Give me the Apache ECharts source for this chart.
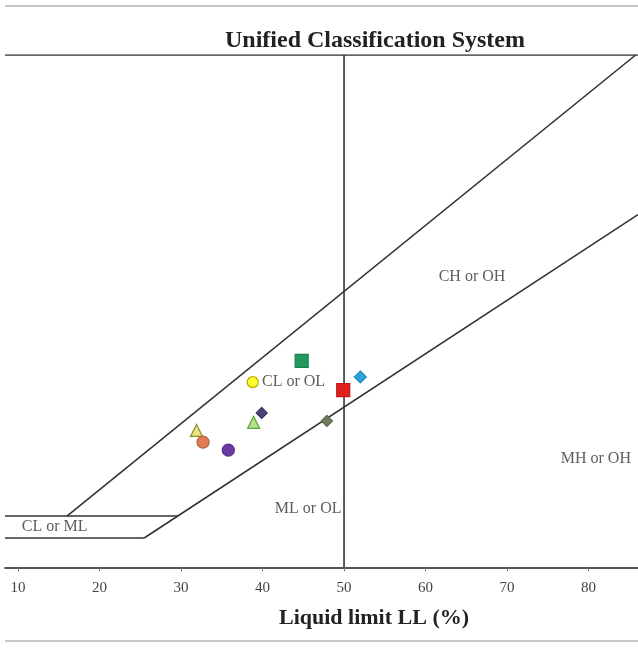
<!DOCTYPE html>
<html>
<head>
<meta charset="utf-8">
<style>
html,body{margin:0;padding:0;background:#fff;}
#chart{width:638px;height:648px;}
</style>
<script src="https://cdn.jsdelivr.net/npm/echarts@6/dist/echarts.min.js"></script>
</head>
<body>
<div id="chart"></div>
<script>
// ---- data ----
const tickLabels = [10, 20, 30, 40, 50, 60, 70, 80];
const sampleLL = [44.8, 38.8, 49.9, 52.0, 39.9, 38.9, 47.9, 31.9, 32.7, 35.8];
const samplePI = [28.2, 25.3, 24.2, 26.0, 21.1, 19.8, 20.0, 18.7, 17.1, 16.0];
const uLine = [[16, 7], [85.78, 70]];
const aLine = [[25.48, 4], [86.07, 48.2]];
const clmlUpper = [[8.4, 7], [29.59, 7]];
const clmlLower = [[8.4, 4], [25.48, 4]];
const llFifty = [[50, 0], [50, 70]];
const topLine = [[8.4, 70], [86.07, 70]];
const zoneNames = ['CH or OH', 'MH or OH', 'ML or OL', 'CL or OL', 'CL or ML'];
const zoneLL = [65.7, 80.9, 45.6, 43.8, 14.5];
const zonePI = [39.7, 14.8, 8.0, 25.3, 5.5];

// ---- styles ----
const markerStyles = [
  {symbol: 'rect', size: 13, color: '#1f9a5c', border: '#17804a'},
  {symbol: 'circle', size: 11, color: '#ffff33', border: '#b8a800'},
  {symbol: 'rect', size: 13, color: '#e0201e', border: '#c01818'},
  {symbol: 'diamond', size: 12, color: '#2fa3d6', border: '#2090c0'},
  {symbol: 'diamond', size: 11, color: '#4b4378', border: '#3a3360'},
  {symbol: 'triangle', size: 12, color: '#b8e08c', border: '#5aa83a'},
  {symbol: 'diamond', size: 11, color: '#6e7a5c', border: '#5a6648'},
  {symbol: 'triangle', size: 12, color: '#ece27a', border: '#8c8a30'},
  {symbol: 'circle', size: 12, color: '#e07c52', border: '#b86040'},
  {symbol: 'circle', size: 12, color: '#6b3aa3', border: '#55308a'}
];
const lineColor = '#333333';
const serif = '"Liberation Serif", "DejaVu Serif", serif';

const series = [];
function addLine(pts) {
  series.push({
    type: 'line', data: pts, symbol: 'none', silent: true,
    lineStyle: {color: lineColor, width: 1.6}, z: 2, animation: false
  });
}
[uLine, aLine, clmlUpper, clmlLower, llFifty, topLine].forEach(addLine);

sampleLL.forEach((ll, i) => {
  const s = markerStyles[i];
  series.push({
    type: 'scatter', symbol: s.symbol, symbolSize: s.size,
    data: [[ll, samplePI[i]]],
    itemStyle: {color: s.color, borderColor: s.border, borderWidth: 1.2, opacity: 1},
    z: 5, animation: false
  });
});

series.push({
  type: 'scatter', symbolSize: 0, silent: true, z: 4, animation: false,
  data: zoneNames.map((n, i) => ({name: n, value: [zoneLL[i], zonePI[i]]})),
  label: {
    show: true, position: 'inside', formatter: p => p.name,
    fontFamily: serif, fontSize: 16, color: '#333'
  }
});

const chart = echarts.init(document.getElementById('chart'), null, {renderer: 'canvas'});
chart.setOption({
  backgroundColor: '#fff',
  animation: false,
  grid: {left: 5, right: 0, top: 55, bottom: 80.7, containLabel: false},
  xAxis: {
    type: 'value', min: 8.4, max: 86.07,
    axisLine: {show: true, onZero: false, lineStyle: {color: '#555', width: 1.8}},
    axisTick: {show: true, customValues: tickLabels, length: 4, lineStyle: {color: '#777', width: 1}},
    axisLabel: {customValues: tickLabels, color: '#444', fontFamily: serif, fontSize: 15, margin: 13},
    splitLine: {show: false}
  },
  yAxis: {type: 'value', min: 0, max: 70, show: false, splitLine: {show: false}},
  graphic: [
    {type: 'line', shape: {x1: 5, y1: 6, x2: 638, y2: 6}, style: {stroke: '#c8c8c8', lineWidth: 2}},
    {type: 'line', shape: {x1: 5, y1: 641, x2: 638, y2: 641}, style: {stroke: '#c8c8c8', lineWidth: 2}},
    {type: 'text', x: 375, y: 41, style: {text: 'Unified Classification System', font: 'bold 24px ' + serif, fill: '#222', align: 'center', verticalAlign: 'middle', textAlign: 'center', textVerticalAlign: 'middle'}},
    {type: 'text', x: 374, y: 618, style: {text: 'Liquid limit LL (%)', font: 'bold 22px ' + serif, fill: '#222', align: 'center', verticalAlign: 'middle', textAlign: 'center', textVerticalAlign: 'middle'}}
  ],
  series: series
});
</script>
</body>
</html>
